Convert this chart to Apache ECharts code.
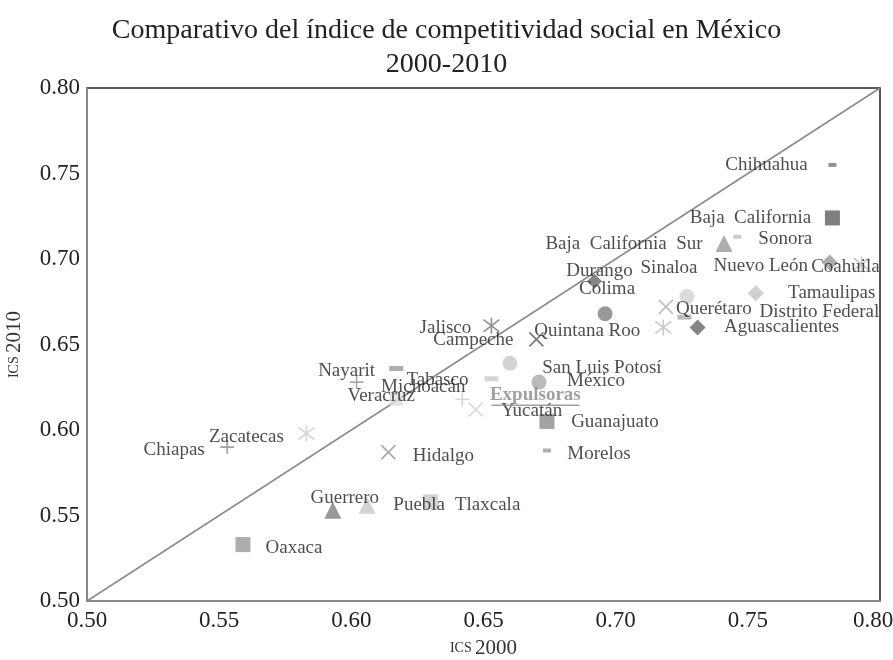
<!DOCTYPE html>
<html>
<head>
<meta charset="utf-8">
<script src="https://cdn.jsdelivr.net/npm/echarts@6/dist/echarts.min.js"></script>
<style>
  html, body { margin: 0; padding: 0; background: #fff; }
  #chart { width: 893px; height: 660px; }
</style>
</head>
<body>
<div id="chart"></div>
<script>
// ICS por estado, 2000 vs 2010
const states = ['Chihuahua', 'Baja  California', 'Baja  California  Sur', 'Sonora', 'Nuevo León',
  'Coahuila', 'Tamaulipas', 'Sinaloa', 'Querétaro', 'Distrito Federal', 'Aguascalientes',
  'Quintana Roo', 'Durango', 'Colima', 'Jalisco', 'Campeche', 'San Luis Potosí', 'México',
  'Tabasco', 'Michoacán', 'Veracruz', 'Nayarit', 'Yucatán', 'Guanajuato', 'Morelos',
  'Hidalgo', 'Zacatecas', 'Chiapas', 'Guerrero', 'Puebla', 'Tlaxcala', 'Oaxaca']
const ics2000 = [0.782, 0.782, 0.741, 0.746, 0.781, 0.793, 0.753, 0.727, 0.719, 0.726, 0.731,
  0.718, 0.692, 0.696, 0.653, 0.670, 0.660, 0.671, 0.653, 0.617, 0.617, 0.602, 0.647,
  0.674, 0.674, 0.614, 0.583, 0.553, 0.593, 0.606, 0.630, 0.559]
const ics2010 = [0.755, 0.724, 0.709, 0.713, 0.698, 0.697, 0.680, 0.678, 0.672, 0.666, 0.660,
  0.660, 0.687, 0.668, 0.661, 0.653, 0.639, 0.628, 0.630, 0.636, 0.618, 0.628, 0.612,
  0.605, 0.588, 0.587, 0.598, 0.590, 0.553, 0.556, 0.558, 0.533]
const groups = ['Receptoras', 'Expulsoras']
const groups2000 = [0.7425, 0.642]
const groups2010 = [0.687, 0.618]
const xTicks = [0.50, 0.55, 0.60, 0.65, 0.70, 0.75, 0.80]

const X = 'path://M0,0L10,10M10,0L0,10'
const PLUS = 'path://M5,0L5,10M0,5L10,5'
const STAR = 'path://M5,0L5,10M1.2,1.2L8.8,8.8M8.8,1.2L1.2,8.8'

// marcador, tamaño, gris
const markStyle = {
  'Chihuahua': ['rect', [8, 4], '#777'],
  'Baja  California': ['rect', 15, '#5f5f5f'],
  'Baja  California  Sur': ['triangle', 17, '#999'],
  'Sonora': ['rect', [8, 4], '#bbb'],
  'Nuevo León': ['diamond', 16, '#999'],
  'Coahuila': [STAR, 16, '#bbb'],
  'Tamaulipas': ['diamond', 16, '#c4c4c4'],
  'Sinaloa': ['circle', 15, '#d2d2d2'],
  'Querétaro': [X, 14, '#aaa'],
  'Distrito Federal': ['rect', [14, 5], '#aaa'],
  'Aguascalientes': ['diamond', 16, '#666'],
  'Quintana Roo': [STAR, 16, '#bbb'],
  'Durango': ['diamond', 15, '#666'],
  'Colima': ['circle', 15, '#808080'],
  'Jalisco': [STAR, 16, '#777'],
  'Campeche': [X, 14, '#555'],
  'San Luis Potosí': ['circle', 15, '#c8c8c8'],
  'México': ['circle', 15, '#aaa'],
  'Tabasco': ['rect', [14, 5], '#ccc'],
  'Michoacán': ['rect', [14, 5], '#999'],
  'Veracruz': ['rect', 13, '#ddd'],
  'Nayarit': [PLUS, 14, '#999'],
  'Yucatán': [X, 14, '#ccc'],
  'Guanajuato': ['rect', 15, '#8c8c8c'],
  'Morelos': ['rect', [8, 4], '#999'],
  'Hidalgo': [X, 14, '#888'],
  'Zacatecas': [STAR, 16, '#ccc'],
  'Chiapas': [PLUS, 14, '#888'],
  'Guerrero': ['triangle', 17, '#808080'],
  'Puebla': ['triangle', 17, '#c8c8c8'],
  'Tlaxcala': ['rect', 15, '#c8c8c8'],
  'Oaxaca': ['rect', 15, '#999']
}
// desplazamiento de la etiqueta respecto al marcador (px)
const labelOffset = {
  'Chihuahua': [-66, 0], 'Baja  California': [-82, 0], 'Baja  California  Sur': [-100, 0],
  'Sonora': [48, 2], 'Nuevo León': [-69, 4], 'Coahuila': [-16, 3], 'Tamaulipas': [76, 0],
  'Sinaloa': [-18, -29], 'Querétaro': [48, 2], 'Distrito Federal': [135, -5],
  'Aguascalientes': [84, 0], 'Quintana Roo': [-76, 4], 'Durango': [5, -10], 'Colima': [2, -25],
  'Jalisco': [-46, 2], 'Campeche': [-63, 1], 'San Luis Potosí': [92, 5], 'México': [57, -1],
  'Tabasco': [-54, 1], 'Michoacán': [27, 19], 'Veracruz': [-15, -3], 'Nayarit': [-10, -11],
  'Yucatán': [56, 2], 'Guanajuato': [68, 1], 'Morelos': [52, 3], 'Hidalgo': [55, 4],
  'Zacatecas': [-60, 4], 'Chiapas': [-53, 3], 'Guerrero': [12, -12], 'Puebla': [52, 0],
  'Tlaxcala': [57, 3], 'Oaxaca': [51, 3]
}

const FONT = '"Liberation Serif", "DejaVu Serif", serif'

const chart = echarts.init(document.getElementById('chart'))

const stateData = states.map((name, i) => {
  const s = markStyle[name]
  const isLine = s[0].startsWith('path://')
  return {
    name,
    value: [ics2000[i], ics2010[i]],
    symbol: s[0],
    symbolSize: s[1],
    itemStyle: isLine
      ? { color: 'none', borderColor: s[2], borderWidth: 1.6 }
      : { color: s[2] },
    label: { offset: labelOffset[name] }
  }
})

const groupData = groups.map((name, i) => ({
  name,
  value: [groups2000[i], groups2010[i]],
  symbol: i === 1 ? PLUS : 'none',
  symbolSize: 14,
  itemStyle: { color: 'none', borderColor: '#ccc', borderWidth: 1.6 },
  label: { offset: i === 1 ? [73, -3] : [0, 0] }
}))

const option = {
  backgroundColor: '#fff',
  animation: false,
  title: {
    text: 'Comparativo del índice de competitividad social en México\n2000-2010',
    left: 'center',
    top: 9,
    textStyle: { fontFamily: FONT, fontSize: 28, fontWeight: 'normal', color: '#222', lineHeight: 34 }
  },
  grid: {
    left: 87, right: 13, top: 88, bottom: 59,
    outerBoundsMode: 'none',
    containLabel: false,
    show: true, borderColor: '#222', borderWidth: 1.5, backgroundColor: '#fff'
  },
  xAxis: {
    type: 'value', min: 0.5, max: 0.8, interval: 0.05,
    name: '{s|ICS} {n|2000}', nameLocation: 'middle', nameGap: 37,
    nameTextStyle: { rich: { s: { fontFamily: FONT, fontSize: 14, color: '#333' }, n: { fontFamily: FONT, fontSize: 21, color: '#333' } } },
    axisLine: { show: true, lineStyle: { color: '#999', width: 1.5 } },
    axisTick: { show: false },
    splitLine: { show: false },
    axisLabel: {
      margin: 8, fontFamily: FONT, fontSize: 23, color: '#222',
      formatter: v => v >= xTicks[xTicks.length - 1] ? '{r|' + v.toFixed(2) + '}' : v.toFixed(2),
      rich: { r: { fontFamily: FONT, fontSize: 23, color: '#222', padding: [0, 14, 0, 0] } }
    }
  },
  yAxis: {
    type: 'value', min: 0.5, max: 0.8, interval: 0.05,
    name: '{s|ICS} {n|2010}', nameLocation: 'middle', nameGap: 62,
    nameTextStyle: { rich: { s: { fontFamily: FONT, fontSize: 14, color: '#333' }, n: { fontFamily: FONT, fontSize: 21, color: '#333' } } },
    axisLine: { show: true, lineStyle: { color: '#999', width: 1.5 } },
    axisTick: { show: false },
    splitLine: { show: false },
    axisLabel: { margin: 7, fontFamily: FONT, fontSize: 23, color: '#222', formatter: v => v.toFixed(2) }
  },
  series: [
    {
      type: 'line',
      data: [[xTicks[0], xTicks[0]], [xTicks[xTicks.length - 1], xTicks[xTicks.length - 1]]],
      symbol: 'none',
      lineStyle: { color: '#8a8a8a', width: 1.5 },
      z: 1,
      silent: true
    },
    {
      type: 'scatter',
      data: stateData,
      z: 3,
      label: {
        show: true, position: 'inside', formatter: '{b}',
        fontFamily: FONT, fontSize: 19, color: '#222'
      }
    },
    {
      type: 'scatter',
      data: groupData,
      z: 3,
      label: {
        show: true, position: 'inside',
        formatter: p => '{t|' + p.name + '}\n{u|}',
        rich: {
          t: { fontFamily: FONT, fontSize: 19, fontWeight: 'bold', color: '#888', lineHeight: 18 },
          u: { width: 88, height: 1.5, backgroundColor: '#888', lineHeight: 2 }
        }
      }
    }
  ]
}

chart.setOption(option)
</script>
</body>
</html>
